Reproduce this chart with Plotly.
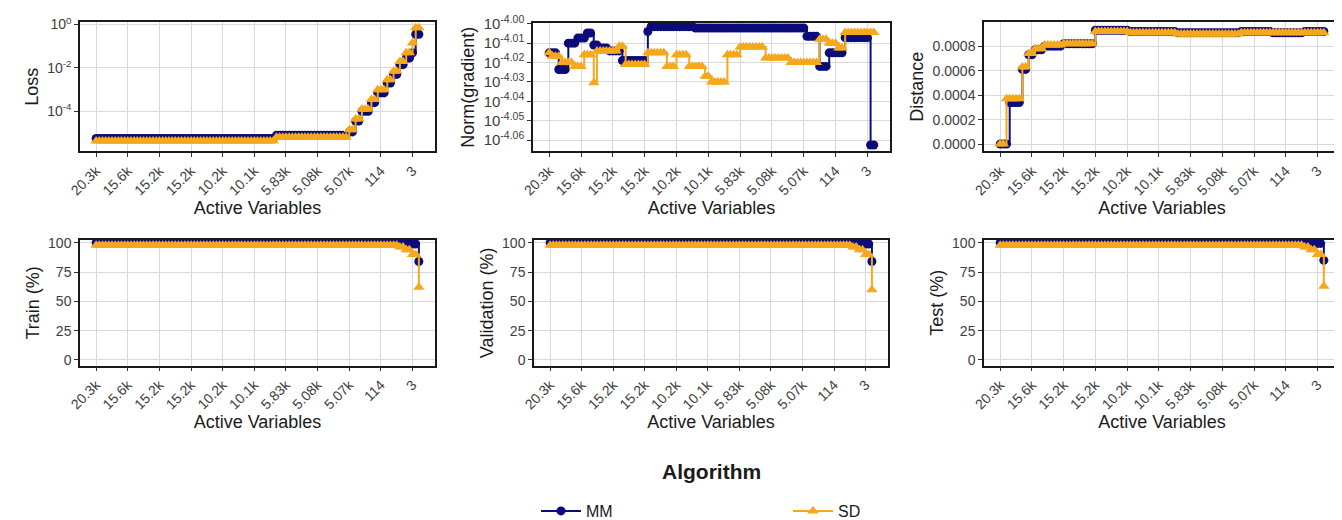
import plotly.graph_objects as go

# ---------------- data ----------------
# x positions are iteration indices 0..102; tick labels show active variables
tick_index = [0, 10, 20, 30, 40, 50, 60, 70, 80, 90, 100]
tick_labels = ["20.3k", "15.6k", "15.2k", "15.2k", "10.2k", "10.1k",
               "5.83k", "5.08k", "5.07k", "114", "3"]

# run-length encoded series: (value, number of consecutive iterations)
loss_log10_mm = [(-5.25, 57), (-5.10, 23), (-4.95, 2), (-4.45, 2), (-4.00, 3),
                 (-3.60, 2), (-3.15, 3), (-2.70, 2), (-2.30, 2), (-1.85, 2),
                 (-1.55, 2), (-1.30, 1), (-0.45, 2)]
loss_log10_sd = [(-5.37, 57), (-5.20, 23), (-4.85, 2), (-4.35, 2), (-3.90, 3),
                 (-3.45, 2), (-3.00, 3), (-2.55, 2), (-2.15, 2), (-1.70, 2),
                 (-1.30, 2), (-0.85, 1), (-0.15, 2)]

grad_log10_mm = [(-4.0150, 3), (-4.0236, 3), (-4.0100, 3), (-4.0074, 3),
                 (-4.0048, 2), (-4.0110, 2), (-4.0125, 3), (-4.0140, 4),
                 (-4.0190, 8), (-4.0040, 1), (-4.0015, 14), (-4.0022, 35),
                 (-4.0065, 4), (-4.0220, 3), (-4.0150, 5), (-4.0072, 8),
                 (-4.0625, 2)]
grad_log10_sd = [(-4.0150, 1), (-4.0167, 3), (-4.0200, 4), (-4.0220, 3),
                 (-4.0160, 3), (-4.0304, 1), (-4.0140, 7), (-4.0116, 2),
                 (-4.0210, 7), (-4.0150, 6), (-4.0220, 3), (-4.0160, 4),
                 (-4.0220, 5), (-4.0270, 2), (-4.0300, 5), (-4.0160, 4),
                 (-4.0120, 8), (-4.0176, 8), (-4.0200, 9), (-4.0080, 3),
                 (-4.0100, 3), (-4.0125, 2), (-4.0045, 10)]

distance_mm = [(0.0, 3), (0.00034, 4), (0.00061, 2), (0.00073, 2), (0.00077, 3),
               (0.00080, 6), (0.00082, 10), (0.00093, 11), (0.00092, 15),
               (0.00091, 20), (0.00092, 10), (0.00091, 10), (0.00092, 7)]
distance_sd = [(0.0, 2), (0.00037, 5), (0.00063, 2), (0.00074, 2), (0.00078, 3),
               (0.00081, 6), (0.00082, 10), (0.00092, 11), (0.00091, 15),
               (0.00090, 20), (0.00091, 10), (0.00091, 10), (0.00091, 7)]

train_mm = [(100.0, 100), (99.0, 2), (84.0, 1)]
train_sd = [(98.0, 96), (96.5, 2), (94.0, 2), (90.0, 2), (62.0, 1)]
valid_mm = [(100.0, 100), (99.0, 2), (84.0, 1)]
valid_sd = [(98.0, 96), (96.5, 2), (94.0, 2), (90.0, 2), (60.0, 1)]
test_mm = [(100.0, 100), (99.5, 2), (85.0, 1)]
test_sd = [(98.0, 96), (96.5, 2), (94.0, 2), (90.0, 2), (63.0, 1)]


def expand(runs):
    out = []
    for v, n in runs:
        out.extend([v] * n)
    return out


def pow10(vals):
    return [10 ** v for v in vals]


series = [
    (pow10(expand(loss_log10_mm)), pow10(expand(loss_log10_sd))),
    (pow10(expand(grad_log10_mm)), pow10(expand(grad_log10_sd))),
    (expand(distance_mm), expand(distance_sd)),
    (expand(train_mm), expand(train_sd)),
    (expand(valid_mm), expand(valid_sd)),
    (expand(test_mm), expand(test_sd)),
]

y_titles = ["Loss", "Norm(gradient)", "Distance",
            "Train (%)", "Validation (%)", "Test (%)"]

MM_COLOR = "#0b0b7a"
SD_COLOR = "#f5a81c"
W, H = 1342, 520
FONT = "Liberation Sans, Arial, sans-serif"

# panel boxes in pixels (left, right, top, bottom)
boxes = [(72, 427, 14, 144), (525, 882, 15, 144), (976, 1332, 14, 144),
         (72, 427, 233, 359), (526, 880, 233, 359), (976, 1332, 233, 359)]

fig = go.Figure()

for i, (mm, sd) in enumerate(series):
    k = i + 1
    fig.add_trace(go.Scatter(
        x=list(range(len(mm))), y=mm, mode="lines+markers", name="MM",
        line=dict(color=MM_COLOR, width=2, shape="hv"),
        marker=dict(symbol="circle", size=9, color=MM_COLOR),
        xaxis=f"x{k}", yaxis=f"y{k}", legendgroup="MM", showlegend=(i == 0)))
    fig.add_trace(go.Scatter(
        x=list(range(len(sd))), y=sd, mode="lines+markers", name="SD",
        line=dict(color=SD_COLOR, width=2, shape="hv"),
        marker=dict(symbol="triangle-up", size=10, color=SD_COLOR),
        xaxis=f"x{k}", yaxis=f"y{k}", legendgroup="SD", showlegend=(i == 0)))

tick_font = dict(family=FONT, size=14, color="#3d3d3d")
title_font = dict(family=FONT, size=18, color="#1a1a1a")

common_axis = dict(
    showline=True, mirror=True, linecolor="#1a1a1a", linewidth=1.5,
    showgrid=True, gridcolor="#d9d9d9", gridwidth=1, zeroline=False,
    ticks="outside", ticklen=4, tickcolor="#333333", tickwidth=1,
    tickfont=tick_font, automargin=False)

layout = {}
for i, (l, r, t, b) in enumerate(boxes):
    k = i + 1
    xd = [l / W, r / W]
    yd = [1 - b / H, 1 - t / H]
    layout[f"xaxis{k}"] = dict(
        common_axis, domain=xd, anchor=f"y{k}", range=[-5.1, 107.1],
        tickmode="array", tickvals=tick_index, ticktext=tick_labels,
        tickangle=-45,
        title=dict(text="Active Variables", font=title_font, standoff=2))
    ydict = dict(common_axis, domain=yd, anchor=f"x{k}",
                 title=dict(text=y_titles[i], font=title_font, standoff=4))
    if i == 0:
        ydict.update(type="log", range=[-5.85, 0.12], tickmode="array",
                     tickvals=[1, 1e-2, 1e-4],
                     ticktext=["10<sup>0</sup>", "10<sup>-2</sup>", "10<sup>-4</sup>"])
    elif i == 1:
        exps = ["4.00", "4.01", "4.02", "4.03", "4.04", "4.05", "4.06"]
        ydict.update(type="log", range=[-4.0658, -3.9996], tickmode="array",
                     tickvals=[10 ** (-float(e)) for e in exps],
                     ticktext=["10<sup>-" + e + "</sup>" for e in exps],
                     tickfont=dict(family=FONT, size=15, color="#3d3d3d"))
    elif i == 2:
        ydict.update(range=[-0.00006, 0.000998], tickmode="array",
                     tickvals=[0, 0.0002, 0.0004, 0.0006, 0.0008],
                     ticktext=["0.0000", "0.0002", "0.0004", "0.0006", "0.0008"])
    else:
        ydict.update(range=[-4.8, 102.3], tickmode="array",
                     tickvals=[0, 25, 50, 75, 100])
    layout[f"yaxis{k}"] = ydict

fig.update_layout(
    **layout,
    width=W, height=H,
    margin=dict(l=0, r=0, t=0, b=0),
    paper_bgcolor="white", plot_bgcolor="white",
    font=dict(family=FONT, color="#1a1a1a"),
    legend=dict(
        orientation="h", x=528 / W, xanchor="left", y=1 - 505 / H, yanchor="middle",
        font=dict(family=FONT, size=16, color="#1a1a1a"),
        entrywidth=197, entrywidthmode="pixels", itemwidth=40,
        bgcolor="rgba(0,0,0,0)"),
    annotations=[dict(
        text="<b>Algorithm</b>", x=703 / W, y=1 - 465 / H, xref="paper", yref="paper",
        xanchor="center", yanchor="middle", showarrow=False,
        font=dict(family=FONT, size=21, color="#1a1a1a"))],
)

fig.write_html("out.html")
